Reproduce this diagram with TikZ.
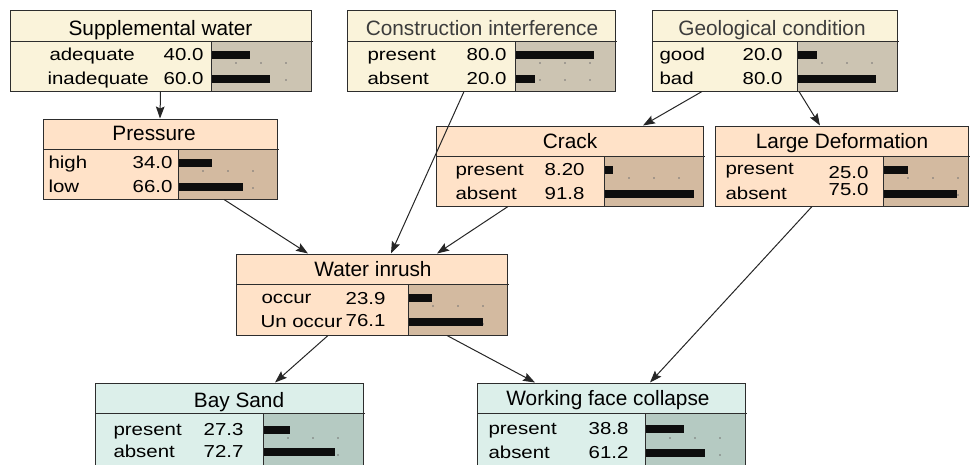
\documentclass[tikz,border=0pt]{standalone}
\usepackage{fontspec}
\setmainfont{Liberation Sans}
\newfontfamily\statefont[FakeStretch=1.18]{Liberation Sans}
\usetikzlibrary{arrows.meta,calc,fit}

\definecolor{boxline}{RGB}{45,45,45}
\definecolor{crmbody}{RGB}{250,243,218}
\definecolor{crmbar}{RGB}{204,196,178}
\definecolor{pchbody}{RGB}{255,226,200}
\definecolor{pchbar}{RGB}{211,186,160}
\definecolor{mntbody}{RGB}{220,239,234}
\definecolor{mntbar}{RGB}{181,202,194}
\definecolor{ttlgray}{RGB}{60,60,60}

\tikzset{every picture/.style={line width=0.75pt}}
\tikzset{
  bnbox/.style={draw=boxline, inner sep=0pt},
  ttl/.style={font=\fontsize{15.6}{18}\selectfont, inner sep=0pt, anchor=base},
  stl/.style={font=\statefont\fontsize{13}{15}\selectfont, inner sep=0pt, anchor=base west},
  stv/.style={font=\statefont\fontsize{13}{15}\selectfont, inner sep=0pt, anchor=base east},
  barc/.style={fill=black!95},
  dotc/.style={fill=black!55},
  conn/.style={draw=black!85, -{Stealth[length=9pt,width=6.5pt,inset=1.5pt]}},
}

\begin{document}
\begin{tikzpicture}[x=0.75pt,y=0.75pt,yscale=-1,xscale=1]
\useasboundingbox (0,0) rectangle (970,464);

% Text Node
\node[bnbox, fill=crmbody, fit={(10,10) (311,91)}] (sw) {};
\fill[crmbar] (211,41) rectangle (310.5,90.5);
\draw[boxline] (10,41) -- (313,41) (211,41) -- (211,91);
\foreach \d in {25,50,75} {\fill[dotc] (211+\d,63) circle (0.8); \fill[dotc] (211+\d,80) circle (0.8);}
\fill[barc] (212,51) rectangle (250,59);
\fill[barc] (212,75) rectangle (270,83);
\node[ttl] (swt) at (160.5,35) {Supplemental water};
\node[stl] (sw1) at (49,60) {adequate};
\node[stv] (sw1v) at (204,60) {40.0};
\node[stl] (sw2) at (47,84) {inadequate};
\node[stv] (sw2v) at (204,84) {60.0};

% Text Node
\node[bnbox, fill=crmbody, fit={(347,10) (615,91)}] (ci) {};
\fill[crmbar] (515,41) rectangle (614.5,90.5);
\draw[boxline] (347,41) -- (617,41) (515,41) -- (515,91);
\foreach \d in {25,50,75} {\fill[dotc] (515+\d,63) circle (0.8); \fill[dotc] (515+\d,80) circle (0.8);}
\fill[barc] (516,51) rectangle (594,59);
\fill[barc] (516,75) rectangle (535,83);
\node[ttl, text=ttlgray] (cit) at (482,35) {Construction interference};
\node[stl] (ci1) at (367,60) {present};
\node[stv] (ci1v) at (507,60) {80.0};
\node[stl] (ci2) at (367,84) {absent};
\node[stv] (ci2v) at (507,84) {20.0};

% Text Node
\node[bnbox, fill=crmbody, fit={(652,10) (897,91)}] (gc) {};
\fill[crmbar] (797,41) rectangle (896.5,90.5);
\draw[boxline] (652,41) -- (899,41) (797,41) -- (797,91);
\foreach \d in {25,50,75} {\fill[dotc] (797+\d,63) circle (0.8); \fill[dotc] (797+\d,80) circle (0.8);}
\fill[barc] (798,51) rectangle (817,59);
\fill[barc] (798,75) rectangle (876,83);
\node[ttl, text=ttlgray] (gct) at (772,35) {Geological condition};
\node[stl] (gc1) at (659,60) {good};
\node[stv] (gc1v) at (783,60) {20.0};
\node[stl] (gc2) at (659,84) {bad};
\node[stv] (gc2v) at (783,84) {80.0};

% Text Node
\node[bnbox, fill=pchbody, fit={(43,119) (277,199)}] (pr) {};
\fill[pchbar] (178,149) rectangle (276.5,198.5);
\draw[boxline] (43,149) -- (279,149) (178,149) -- (178,199);
\foreach \d in {25,50,75} {\fill[dotc] (178+\d,171) circle (0.8); \fill[dotc] (178+\d,188) circle (0.8);}
\fill[barc] (179,159) rectangle (212,167);
\fill[barc] (179,183) rectangle (243,191);
\node[ttl] (prt) at (154,140) {Pressure};
\node[stl] (pr1) at (48,168) {high};
\node[stv] (pr1v) at (173,168) {34.0};
\node[stl] (pr2) at (48,192) {low};
\node[stv] (pr2v) at (173,192) {66.0};

% Text Node
\node[bnbox, fill=pchbody, fit={(436,126) (703,206)}] (cr) {};
\fill[pchbar] (604,156) rectangle (702.5,205.5);
\draw[boxline] (436,156) -- (705,156) (604,156) -- (604,206);
\foreach \d in {25,50,75} {\fill[dotc] (604+\d,178) circle (0.8); \fill[dotc] (604+\d,195) circle (0.8);}
\fill[barc] (605,166) rectangle (613,174);
\fill[barc] (605,190) rectangle (694,198);
\node[ttl] (crt) at (570,148) {Crack};
\node[stl] (cr1) at (455,175) {present};
\node[stv] (cr1v) at (585,175) {8.20};
\node[stl] (cr2) at (455,199) {absent};
\node[stv] (cr2v) at (585,199) {91.8};

% Text Node
\node[bnbox, fill=pchbody, fit={(715,126) (968,206)}] (ld) {};
\fill[pchbar] (883,156) rectangle (967.5,205.5);
\draw[boxline] (715,156) -- (970,156) (883,156) -- (883,206);
\foreach \d in {25,50,75} {\fill[dotc] (883+\d,178) circle (0.8); \fill[dotc] (883+\d,195) circle (0.8);}
\fill[barc] (884,166) rectangle (908,174);
\fill[barc] (884,190) rectangle (957,198);
\node[ttl] (ldt) at (842,148) {Large Deformation};
\node[stl] (ld1) at (725,174) {present};
\node[stv] (ld1v) at (869,178) {25.0};
\node[stl] (ld2) at (725,199) {absent};
\node[stv] (ld2v) at (869,195) {75.0};

% Text Node
\node[bnbox, fill=pchbody, fit={(236,254) (507,335)}] (wi) {};
\fill[pchbar] (408,284) rectangle (506.5,334.5);
\draw[boxline] (236,284) -- (509,284) (408,284) -- (408,335);
\foreach \d in {25,50,75} {\fill[dotc] (408+\d,306) circle (0.8); \fill[dotc] (408+\d,324) circle (0.8);}
\fill[barc] (409,294) rectangle (432,302);
\fill[barc] (409,318) rectangle (483,326);
\node[ttl] (wit) at (373,276) {Water inrush};
\node[stl] (wi1) at (261,303) {occur};
\node[stv] (wi1v) at (386,304) {23.9};
\node[stl] (wi2) at (260,327) {Un occur};
\node[stv] (wi2v) at (386,326) {76.1};

% Text Node
\node[bnbox, fill=mntbody, fit={(95,383) (363,470)}] (bs) {};
\fill[mntbar] (263,413) rectangle (362.5,470);
\draw[boxline] (95,413) -- (365,413) (263,413) -- (263,470);
\foreach \d in {25,50,75} {\fill[dotc] (263+\d,438) circle (0.8); \fill[dotc] (263+\d,455) circle (0.8);}
\fill[barc] (264,426) rectangle (290,434);
\fill[barc] (264,448) rectangle (335,456);
\node[ttl] (bst) at (239,407) {Bay Sand};
\node[stl] (bs1) at (113,435) {present};
\node[stv] (bs1v) at (244,435) {27.3};
\node[stl] (bs2) at (113,457) {absent};
\node[stv] (bs2v) at (244,457) {72.7};

% Text Node
\node[bnbox, fill=mntbody, fit={(477,383) (745,470)}] (wf) {};
\fill[mntbar] (645,413) rectangle (744.5,470);
\draw[boxline] (477,413) -- (747,413) (645,413) -- (645,470);
\foreach \d in {25,50,75} {\fill[dotc] (645+\d,438) circle (0.8); \fill[dotc] (645+\d,455) circle (0.8);}
\fill[barc] (646,425) rectangle (684,433);
\fill[barc] (646,449) rectangle (705,457);
\node[ttl] (wft) at (608,405) {Working face collapse};
\node[stl] (wf1) at (488,434) {present};
\node[stv] (wf1v) at (629,434) {38.8};
\node[stl] (wf2) at (488,458) {absent};
\node[stv] (wf2v) at (629,458) {61.2};

% Connection
\draw[conn] (sw.south) -- (pr.north);
% Connection
\draw[conn] ($(ci.south)+(-17,0)$) -- ($(wi.north)+(19.5,0)$);
% Connection
\draw[conn] ($(gc.south)+(-72.5,0)$) -- ($(cr.north)+(73.5,0)$);
% Connection
\draw[conn] ($(gc.south)+(24.5,0)$) -- ($(ld.north)+(-21.5,0)$);
% Connection
\draw[conn] ($(pr.south)+(64,0)$) -- ($(wi.north)+(-63.5,0)$);
% Connection
\draw[conn] ($(cr.south)+(-61.5,0)$) -- ($(wi.north)+(65.5,0)$);
% Connection
\draw[conn] ($(ld.south)+(-29.5,0)$) -- ($(wf.north)+(39,0)$);
% Connection
\draw[conn] ($(wi.south)+(-43.5,0)$) -- ($(bs.north)+(46,0)$);
% Connection
\draw[conn] ($(wi.south)+(75.5,0)$) -- ($(wf.north)+(-76,0)$);

\end{tikzpicture}
\end{document}
